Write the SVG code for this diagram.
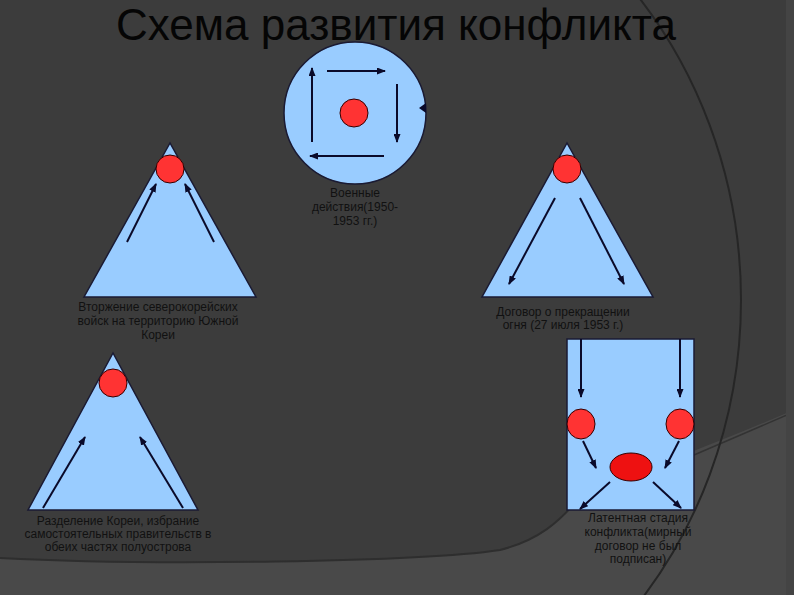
<svg xmlns="http://www.w3.org/2000/svg" width="794" height="595" viewBox="0 0 794 595">
<style>
.shape{fill:#99ccff;stroke:#1a1a33;stroke-width:1.5}
.dot{fill:#ff3333;stroke:#330000;stroke-width:1}
.arr{stroke:#0a0a2a;stroke-width:2;fill:none;marker-end:url(#ah)}
.lbl{font-family:"Liberation Sans",Arial,sans-serif;font-size:12px;fill:#111;text-anchor:middle}
.title{font-family:"Liberation Sans",Arial,sans-serif;font-size:44px;fill:#050505;text-anchor:middle}
</style>
<defs>
<marker id="ah" markerUnits="userSpaceOnUse" markerWidth="9" markerHeight="7" refX="8" refY="3.5" orient="auto">
<path d="M0,0 L9,3.5 L0,7 Z" fill="#0a0a2a"/>
</marker>
</defs>
<g id="background">
<rect x="0" y="0" width="794" height="595" fill="#3c3c3c"/>
<path d="M0,558 C150,566 420,562 500,550 C540,540 560,520 575,503 C620,478 700,450 794,410 L794,595 L0,595 Z" fill="#494949"/>
<path d="M0,558 C150,566 420,562 500,550 C540,540 560,520 575,503" fill="none" stroke="#2e2e2e" stroke-width="2"/>
<path d="M694,455 L794,412" fill="none" stroke="#333" stroke-width="1.5"/>
<ellipse cx="295" cy="300" rx="446" ry="475" fill="none" stroke="#262626" stroke-width="2"/>
<rect x="786" y="0" width="8" height="595" fill="#444"/>
</g>
<text class="title" x="396" y="40">Схема развития конфликта</text>
<g id="node-circle">
<circle class="shape" cx="355" cy="113" r="71"/>
<circle class="dot" cx="354" cy="113" r="14"/>
<path d="M419,108 L426,103 L426,113 Z" fill="#0a0a2a"/>
<text class="lbl" x="355" y="197">Военные</text>
<text class="lbl" x="355" y="211">действия(1950-</text>
<text class="lbl" x="355" y="225">1953 гг.)</text>
</g>
<g id="node-invasion">
<polygon class="shape" points="170,143 84,297 256,297"/>
<circle class="dot" cx="170" cy="169" r="14"/>
<text class="lbl" x="158" y="311">Вторжение северокорейских</text>
<text class="lbl" x="158" y="325">войск на территорию Южной</text>
<text class="lbl" x="158" y="339">Кореи</text>
</g>
<g id="node-ceasefire">
<polygon class="shape" points="567,143 482,297 653,297"/>
<circle class="dot" cx="567" cy="169" r="14"/>
<text class="lbl" x="563" y="316">Договор о прекращении</text>
<text class="lbl" x="563" y="329">огня (27 июля 1953 г.)</text>
</g>
<g id="node-division">
<polygon class="shape" points="113,353 28,510 198,510"/>
<circle class="dot" cx="113" cy="383" r="14"/>
<text class="lbl" x="118" y="525">Разделение Кореи, избрание</text>
<text class="lbl" x="118" y="538">самостоятельных правительств в</text>
<text class="lbl" x="118" y="551">обеих частях полуострова</text>
</g>
<g id="node-latent">
<rect class="shape" x="567" y="339" width="127" height="171"/>
<ellipse class="dot" cx="581" cy="424" rx="14" ry="15"/>
<ellipse class="dot" cx="680" cy="424" rx="14" ry="15"/>
<ellipse class="dot" cx="631" cy="467" rx="21" ry="14" style="fill:#ee1111"/>
<text class="lbl" x="638" y="522">Латентная стадия</text>
<text class="lbl" x="638" y="536">конфликта(мирный</text>
<text class="lbl" x="638" y="550">договор не был</text>
<text class="lbl" x="638" y="563">подписан)</text>
</g>
<g id="connectors">
<line class="arr" x1="327" y1="71" x2="385" y2="71"/>
<line class="arr" x1="397" y1="84" x2="397" y2="142"/>
<line class="arr" x1="384" y1="156" x2="310" y2="156"/>
<line class="arr" x1="312" y1="142" x2="312" y2="68"/>
<line class="arr" x1="127" y1="242" x2="156" y2="184"/>
<line class="arr" x1="214" y1="242" x2="185" y2="184"/>
<line class="arr" x1="555" y1="198" x2="509" y2="284"/>
<line class="arr" x1="580" y1="198" x2="624" y2="284"/>
<line class="arr" x1="43" y1="508" x2="85" y2="437"/>
<line class="arr" x1="183" y1="508" x2="140" y2="437"/>
<line class="arr" x1="581" y1="339" x2="581" y2="397"/>
<line class="arr" x1="680" y1="339" x2="680" y2="397"/>
<line class="arr" x1="583" y1="441" x2="596" y2="468"/>
<line class="arr" x1="679" y1="441" x2="665" y2="468"/>
<line class="arr" x1="610" y1="482" x2="580" y2="509"/>
<line class="arr" x1="653" y1="482" x2="681" y2="508"/>
</g>
</svg>
